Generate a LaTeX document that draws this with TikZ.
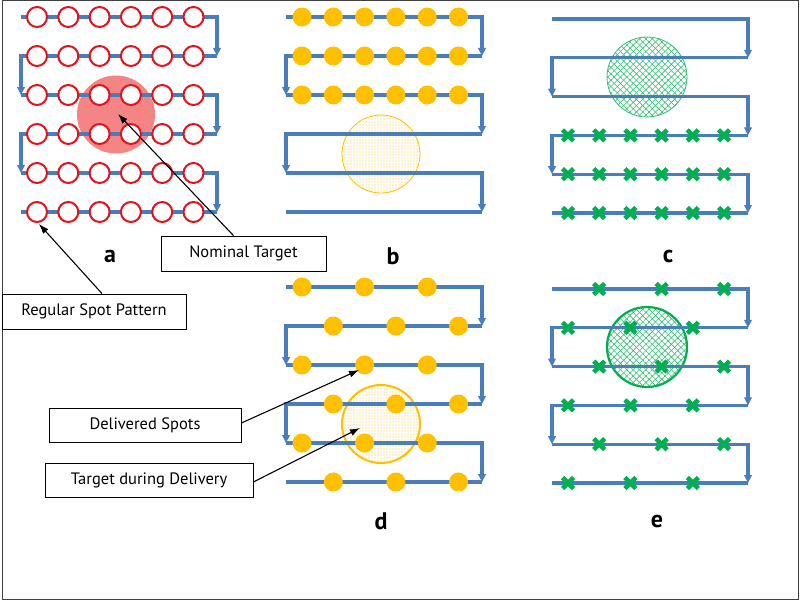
\documentclass[tikz,border=0pt]{standalone}
\usepackage{fontspec}
\setmainfont{PT Sans}
\usetikzlibrary{arrows.meta,patterns.meta}

\definecolor{scanblue}{HTML}{4A7EBB}
\definecolor{spotred}{HTML}{E3121B}
\definecolor{targetred}{HTML}{F58585}
\definecolor{spotgold}{HTML}{FFC000}
\definecolor{spotgreen}{HTML}{00B050}

\tikzset{
    greenx/.pic={\draw[spotgreen, line width=4.6pt] (-5.5,-5.5) -- (5.5,5.5) (-5.5,5.5) -- (5.5,-5.5);}
}

\begin{document}
\begin{tikzpicture}[x=1pt, y=-1pt,
    scan/.style={scanblue, line width=3.1pt},
    scanarrow/.style={scan, -{Triangle[length=8pt, width=7.5pt]}},
    redspot/.style={draw=spotred, line width=2pt, fill=white},
    goldspot/.style={fill=spotgold},
    labelbox/.style={draw, line width=0.8pt, inner sep=0pt, font=\fontsize{16.5}{19}\selectfont},
    panel/.style={font=\bfseries\fontsize{24}{26}\selectfont},
    callout/.style={-{Latex[length=10pt, width=7pt]}, line width=1.1pt}]

    % Frame
    \useasboundingbox (0,0) rectangle (800,602);
    \fill[white] (0,0) rectangle (800,602);
    \draw[black!75, line width=1pt] (2,1) rectangle (798,599);

    % Panel a: regular spot pattern
    \begin{scope}[shift={(21,17)}]
        \fill[targetred] (95,97.5) circle (39pt);
        \foreach \r in {0,2,4}
            \draw[scanarrow] (0,39*\r) -- (196,39*\r) -- (196,39*\r+39);
        \foreach \r in {1,3}
            \draw[scanarrow] (196,39*\r) -- (0,39*\r) -- (0,39*\r+39);
        \draw[scan] (196,195) -- (0,195);
        \foreach \i in {0,...,5}
            \foreach \r in {0,...,5}
                \draw[redspot] (16+31.3*\i,39*\r) circle (10pt);
    \end{scope}

    % Panel b: target moved down
    \begin{scope}[shift={(286,17)}]
        \fill[pattern={Dots[distance=3pt, radius=0.55pt]}, pattern color=spotgold!85] (95,137) circle (39pt);
        \draw[spotgold, line width=0.8pt] (95,137) circle (39pt);
        \foreach \r in {0,2,4}
            \draw[scanarrow] (0,39*\r) -- (196,39*\r) -- (196,39*\r+39);
        \foreach \r in {1,3}
            \draw[scanarrow] (196,39*\r) -- (0,39*\r) -- (0,39*\r+39);
        \draw[scan] (196,195) -- (0,195);
        \foreach \i in {0,...,5}
            \foreach \r in {0,1,2}
                \fill[goldspot] (16+31.3*\i,39*\r) circle (9.5pt);
    \end{scope}

    % Panel c: target moved up
    \begin{scope}[shift={(552,19)}]
        \fill[pattern={Lines[angle=45, distance=4.5pt, line width=0.6pt]}, pattern color=spotgreen!80] (95,58) circle (40pt);
        \fill[pattern={Lines[angle=-45, distance=4.5pt, line width=0.6pt]}, pattern color=spotgreen!80] (95,58) circle (40pt);
        \draw[spotgreen!80, line width=0.8pt] (95,58) circle (40pt);
        \foreach \r in {0,2,4}
            \draw[scanarrow] (0,38.8*\r) -- (196,38.8*\r) -- (196,38.8*\r+38.8);
        \foreach \r in {1,3}
            \draw[scanarrow] (196,38.8*\r) -- (0,38.8*\r) -- (0,38.8*\r+38.8);
        \draw[scan] (196,194) -- (0,194);
        \foreach \i in {0,...,5}
            \foreach \r in {3,4,5}
                \pic at (16+31.2*\i,38.8*\r) {greenx};
    \end{scope}

    % Panel d: interleaved spots, target moved down
    \begin{scope}[shift={(286,287)}]
        \fill[pattern={Dots[distance=3pt, radius=0.55pt]}, pattern color=spotgold!85] (95,137) circle (39pt);
        \draw[spotgold, line width=2pt] (95,137) circle (39pt);
        \foreach \r in {0,2,4}
            \draw[scanarrow] (0,39*\r) -- (196,39*\r) -- (196,39*\r+39);
        \foreach \r in {1,3}
            \draw[scanarrow] (196,39*\r) -- (0,39*\r) -- (0,39*\r+39);
        \draw[scan] (196,195) -- (0,195);
        \foreach \r in {0,2,4}
            \foreach \i in {0,2,4}
                \fill[goldspot] (16+31.3*\i,39*\r) circle (9.5pt);
        \foreach \r in {1,3,5}
            \foreach \i in {1,3,5}
                \fill[goldspot] (16+31.3*\i,39*\r) circle (9.5pt);
    \end{scope}

    % Panel e: interleaved spots, target moved up
    \begin{scope}[shift={(552,289)}]
        \fill[pattern={Lines[angle=45, distance=4.5pt, line width=0.6pt]}, pattern color=spotgreen!80] (95,58) circle (40pt);
        \fill[pattern={Lines[angle=-45, distance=4.5pt, line width=0.6pt]}, pattern color=spotgreen!80] (95,58) circle (40pt);
        \draw[spotgreen, line width=2.2pt] (95,58) circle (40pt);
        \foreach \r in {0,2,4}
            \draw[scanarrow] (0,38.8*\r) -- (196,38.8*\r) -- (196,38.8*\r+38.8);
        \foreach \r in {1,3}
            \draw[scanarrow] (196,38.8*\r) -- (0,38.8*\r) -- (0,38.8*\r+38.8);
        \draw[scan] (196,194) -- (0,194);
        \foreach \r in {0,2,4}
            \foreach \i in {1,3,5}
                \pic at (16+31.2*\i,38.8*\r) {greenx};
        \foreach \r in {1,3,5}
            \foreach \i in {0,2,4}
                \pic at (16+31.2*\i,38.8*\r) {greenx};
    \end{scope}

    % Panel letters
    \node[panel] (lbla) at (110,256) {a};
    \node[panel] (lblb) at (393,256) {b};
    \node[panel] (lblc) at (668,256) {c};
    \node[panel] (lbld) at (381,521) {d};
    \node[panel] (lble) at (657,521) {e};

    % Callouts
    \coordinate (nomtip) at (118,114);
    \coordinate (regtip) at (39,224);
    \coordinate (deltip) at (359,370);
    \coordinate (durtip) at (360,428);

    \node[labelbox, minimum width=165pt, minimum height=35pt] (nominal) at (243.5,253.5) {Nominal Target};
    \node[labelbox, minimum width=184pt, minimum height=35pt] (regular) at (94,311.5) {Regular Spot Pattern};
    \node[labelbox, minimum width=192pt, minimum height=34pt] (delivered) at (145,425) {Delivered Spots};
    \node[labelbox, minimum width=208pt, minimum height=34pt] (during) at (149,480) {Target during Delivery};

    \draw[callout] ([xshift=-10pt]nominal.north) -- (nomtip);
    \draw[callout] ([xshift=8pt]regular.north) -- (regtip);
    \draw[callout] ([yshift=2pt]delivered.east) -- (deltip);
    \draw[callout] ([yshift=-2pt]during.east) -- (durtip);
\end{tikzpicture}
\end{document}
